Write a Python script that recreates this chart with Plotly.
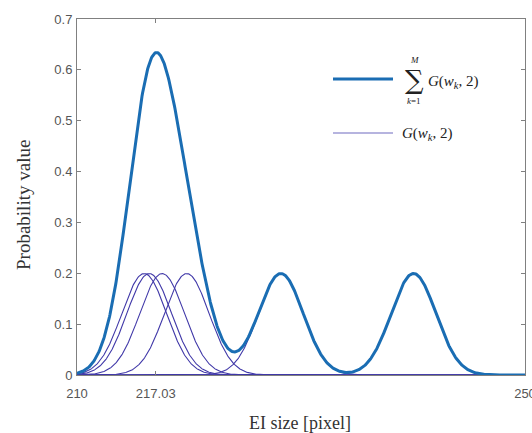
import numpy as np
import plotly.graph_objects as go

# Data
centers = [216.0, 216.45, 217.6, 219.8, 228.2, 240.05]   # w_k
sigma = 2.0
x_range = [210, 250]
x_ticks = [210, 217.03, 250]
x_ticktext = ["210", "217.03", "250"]
y_ticks = [0, 0.1, 0.2, 0.3, 0.4, 0.5, 0.6, 0.7]
y_ticktext = ["0", "0.1", "0.2", "0.3", "0.4", "0.5", "0.6", "0.7"]

x = np.linspace(210, 250, 801)

def gauss(xv, mu, s):
    return np.exp(-(xv - mu) ** 2 / (2 * s * s)) / (s * np.sqrt(2 * np.pi))

comps = [gauss(x, m, sigma) for m in centers]
total = np.sum(comps, axis=0)

fig = go.Figure()
for c in comps:
    fig.add_trace(go.Scatter(x=x, y=c, mode="lines",
                             line=dict(color="#4038a8", width=1.1),
                             showlegend=False, hoverinfo="skip"))
fig.add_trace(go.Scatter(x=x, y=total, mode="lines",
                         line=dict(color="#1a6db3", width=3),
                         showlegend=False, hoverinfo="skip"))

W, H = 532, 433
L, R, T, B = 77, 7, 19, 58

axis_common = dict(showline=True, linecolor="#808080", linewidth=1, mirror="ticks",
                   ticks="inside", ticklen=4, tickcolor="#808080", showgrid=False,
                   zeroline=False, automargin=False, ticklabeloverflow="allow",
                   tickfont=dict(family="Liberation Sans, Arial", size=13, color="#555555"))

fig.update_layout(
    width=W, height=H,
    margin=dict(l=L, r=R, t=T, b=B),
    paper_bgcolor="white", plot_bgcolor="white",
    showlegend=False,
    xaxis=dict(range=x_range, tickvals=x_ticks, ticktext=x_ticktext,
               ticklabelstandoff=6, **axis_common),
    yaxis=dict(range=[0, 0.7], tickvals=y_ticks, ticktext=y_ticktext,
               ticklabelstandoff=1, **axis_common),
)

def px2paper_x(px):
    return (px - L) / (W - L - R)

def px2paper_y(py):
    return (H - B - py) / (H - T - B)

serif = "Liberation Serif, Times New Roman, serif"

def note(text, px, py, size, family=serif, xanchor="center", angle=0, color="#222222"):
    return dict(text=text, x=px2paper_x(px), y=px2paper_y(py), xref="paper", yref="paper",
                showarrow=False, xanchor=xanchor, yanchor="middle", textangle=angle,
                font=dict(family=family, size=size, color=color))

ann = [
    note("EI size [pixel]", 300, 423, 18, color="#333333"),
    note("Probability value", 23, 205, 19, angle=-90, color="#333333"),
    note("∑", 414, 80, 26, family="DejaVu Serif"),
    note("<i>M</i>", 414, 60, 9),
    note("<i>k</i>=1", 414, 101, 9),
    note("<i>G</i>(<i>w</i><sub><i>k</i></sub>, 2)", 426, 82, 15, xanchor="left"),
    note("<i>G</i>(<i>w</i><sub><i>k</i></sub>, 2)", 400, 134, 15, xanchor="left"),
]
fig.update_layout(annotations=ann)

fig.add_shape(type="line", xref="paper", yref="paper",
              x0=px2paper_x(333), x1=px2paper_x(393), y0=px2paper_y(79), y1=px2paper_y(79),
              line=dict(color="#1a6db3", width=3))
fig.add_shape(type="line", xref="paper", yref="paper",
              x0=px2paper_x(333), x1=px2paper_x(393), y0=px2paper_y(133), y1=px2paper_y(133),
              line=dict(color="#6f6ac0", width=1.2))

fig.write_html("out.html", config={"displayModeBar": False},
               post_script="document.body.style.margin='0';")
